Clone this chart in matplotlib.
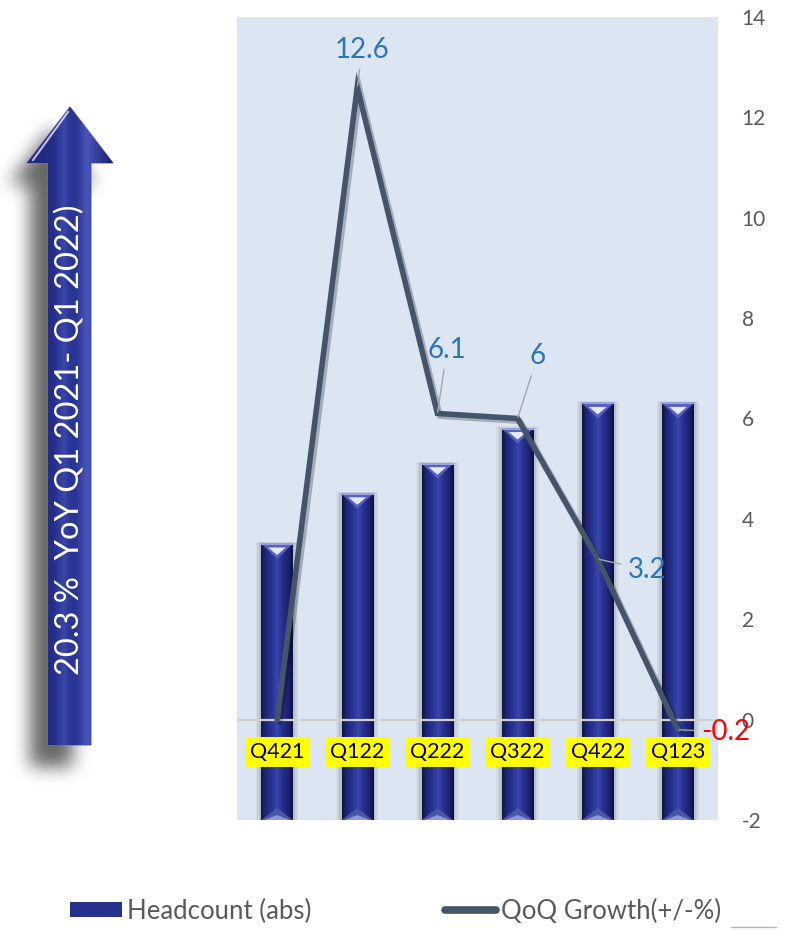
import numpy as np
import matplotlib
matplotlib.use("Agg")
import matplotlib.pyplot as plt
import matplotlib.patheffects as pe
from matplotlib.patches import Polygon, Rectangle
from matplotlib.path import Path

plt.rcParams['font.family'] = ['Lato', 'DejaVu Sans']
plt.rcParams['axes.unicode_minus'] = False

# data
quarters = ["Q421", "Q122", "Q222", "Q322", "Q422", "Q123"]
headcount = [3.5, 4.5, 5.1, 5.8, 6.3, 6.3]      # bar tops on the growth scale (abs axis is hidden)
qoq_growth = [0.0, 12.6, 6.1, 6.0, 3.2, -0.2]
point_labels = ["", "12.6", "6.1", "6", "3.2", "-0.2"]
label_xy = [None, (1.06, 13.35), (2.12, 7.37), (3.25, 7.25), (4.61, 2.98), (5.6, -0.25)]
label_colors = ["#2e75b6"] * 5 + ["#ff0000"]
yticks = [-2, 0, 2, 4, 6, 8, 10, 12, 14]
yoy_text = "20.3 %  YoY Q1 2021- Q1 2022)"

W, H = 786, 930
fig = plt.figure(figsize=(W / 100, H / 100), dpi=100)

# overlay axes in pixel coords for the arrow decoration
ax_bg = fig.add_axes([0, 0, 1, 1], zorder=0)
ax_bg.set_xlim(0, W)
ax_bg.set_ylim(H, 0)
ax_bg.axis("off")
ax_bg.patch.set_alpha(0)

ax = fig.add_axes([237 / W, 1 - 820 / H, (718 - 237) / W, (820 - 17) / H], zorder=1)
ax.set_facecolor("#dce6f2")

x = np.arange(len(quarters))
base = -2


def hgrad(stops, cols, n=64):
    t = np.linspace(0, 1, n)
    rgb = np.array([matplotlib.colors.to_rgb(c) for c in cols])
    out = np.stack([np.interp(t, stops, rgb[:, k]) for k in range(3)], axis=-1)
    return out[None, :, :]


bar_grad = hgrad([0, 0.12, 0.35, 0.5, 0.65, 0.88, 1.0],
                 ["#10143f", "#1d2476", "#2a3495", "#3b47ad", "#29328f", "#1a206c", "#0c103a"])

bars = ax.bar(x, np.array(headcount) - base, bottom=base, width=0.39,
              color="#27308c", edgecolor="none", zorder=2)

for b in bars:
    x0, w, top = b.get_x(), b.get_width(), b.get_y() + b.get_height()
    xc = x0 + w / 2
    # soft shadow around bar
    for k, a in zip([0.07, 0.05, 0.03], [0.06, 0.08, 0.10]):
        ax.add_patch(Rectangle((x0 - k, base), w + 2 * k, top - base + k * 0.6,
                               facecolor="#404040", edgecolor="none", alpha=a, zorder=1.8))
    im = ax.imshow(bar_grad, extent=(x0, x0 + w, base, top), aspect="auto", zorder=2.1)
    im.set_clip_path(b)
    # bevel on top
    ax.add_patch(Polygon([(x0, top), (x0 + w, top), (xc, top - 0.3)],
                         facecolor="#5661c0", edgecolor="none", zorder=2.2))
    ax.add_patch(Polygon([(xc - 0.11, top - 0.07), (xc + 0.11, top - 0.07), (xc, top - 0.22)],
                         facecolor="white", edgecolor="none", alpha=0.85, zorder=2.3))
    ax.plot([x0, x0 + w], [top, top], color="#9aa3e0", lw=1.5, zorder=2.3)
    # bevel at bottom
    ax.add_patch(Polygon([(x0, base), (x0 + w, base), (xc, base + 0.24)],
                         facecolor="#4a54a8", edgecolor="none", zorder=2.2))
    ax.add_patch(Polygon([(x0 + 0.04, base), (x0 + w - 0.04, base), (xc, base + 0.1)],
                         facecolor="#8d96d6", edgecolor="none", zorder=2.3))

ax.axhline(0, color="#d0d0d0", lw=1.6, zorder=3)

line, = ax.plot(x, qoq_growth, color="#44546a", lw=4, solid_joinstyle="miter", zorder=5,
                solid_capstyle="round",
                path_effects=[pe.SimpleLineShadow(offset=(2, -2), shadow_color="k", alpha=0.25),
                              pe.Normal()])

for i, txt in enumerate(point_labels):
    if not txt:
        continue
    ax.annotate(txt, xy=(x[i], qoq_growth[i]), xytext=label_xy[i], textcoords="data",
                ha="center", va="center", fontsize=20, color=label_colors[i], zorder=6,
                arrowprops=dict(arrowstyle="-", color="#a6a6a6", lw=1, shrinkA=3, shrinkB=1))

for i, q in enumerate(quarters):
    ax.text(x[i], -0.64, q, ha="center", va="center", fontsize=15.5, color="black", zorder=6,
            bbox=dict(facecolor="#ffff00", edgecolor="none", pad=3.5))

ax.set_xlim(-0.5, len(quarters) - 0.5)
ax.set_ylim(-2, 14)
ax.set_yticks(yticks)
ax.set_xticks([])
ax.yaxis.tick_right()
ax.tick_params(axis="y", length=0, pad=17, labelsize=15, labelcolor="#595959")
for s in ax.spines.values():
    s.set_visible(False)

# big arrow on the left
arrow_pts = np.array([(70, 107), (113, 163), (91, 163), (91, 745),
                      (48, 745), (48, 163), (27, 163)])
sx, sy = -18, 22
gx0, gx1, gy0, gy1 = 0, 150, 80, 810
gx, gy = np.meshgrid(np.arange(gx0, gx1) + 0.5, np.arange(gy0, gy1) + 0.5)
mask = Path(arrow_pts + [sx, sy]).contains_points(
    np.column_stack([gx.ravel(), gy.ravel()])).reshape(gx.shape).astype(float)
kern = np.ones(17) / 17
for _ in range(3):
    mask = np.apply_along_axis(lambda r: np.convolve(r, kern, mode="same"), 1, mask)
    mask = np.apply_along_axis(lambda r: np.convolve(r, kern, mode="same"), 0, mask)
shadow = np.zeros(mask.shape + (4,))
shadow[..., 3] = 0.6 * mask
ax_bg.imshow(shadow, extent=(gx0, gx1, gy1, gy0), aspect="auto", zorder=1)

arrow = Polygon(arrow_pts, closed=True, facecolor="#27308c", edgecolor="#6570c8", lw=0.8, zorder=2)
ax_bg.add_patch(arrow)
arrow_grad = hgrad([0, 0.3, 0.43, 0.5, 0.57, 0.7, 1.0],
                   ["#20287e", "#242d88", "#3a46aa", "#2b3596", "#2a3494", "#4955b6", "#1a2070"])
aim = ax_bg.imshow(arrow_grad, extent=(27, 113, 745, 107), aspect="auto", zorder=2.1)
aim.set_clip_path(arrow)
ax_bg.plot([33, 68], [160, 112], color="white", lw=1.5, alpha=0.7, zorder=2.2)
ax_bg.text(70, 440, yoy_text, rotation=90, ha="center", va="center",
           fontsize=23.5, color="white", zorder=3)

# legend
leg = fig.legend(handles=[bars, line], labels=["Headcount (abs)", "QoQ Growth(+/-%)"],
                 loc="center left", bbox_to_anchor=(47 / W, 1 - 911 / H), ncol=2, frameon=False,
                 fontsize=18.5, handlelength=2.0, handletextpad=0.2, columnspacing=5.2,
                 handleheight=0.5, labelcolor="#595959")
for ln in leg.get_lines():
    ln.set_linewidth(5.5)
    ln.set_path_effects([])
ax_bg.plot([731, 776], [927, 927], color="#aab6cc", lw=1, zorder=2)

fig.savefig("out.png", dpi=100)
